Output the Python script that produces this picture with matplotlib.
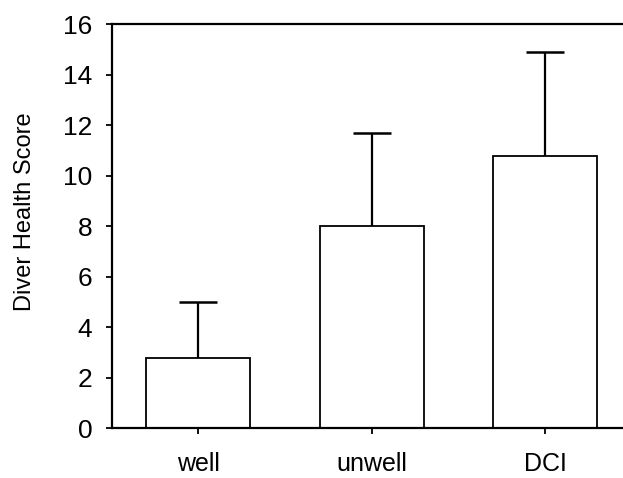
import matplotlib.pyplot as plt

groups = ["well", "unwell", "DCI"]
means = [2.8, 8.0, 10.8]
upper_err = [2.2, 3.7, 4.1]

plt.rcParams["font.family"] = ["Liberation Sans", "DejaVu Sans"]

fig = plt.figure(figsize=(6.23, 4.78), dpi=100)
ax = fig.add_axes([0.1793, 0.104, 0.835, 0.845])

x = list(range(len(groups)))
ax.bar(x, means, width=0.6, color="white", edgecolor="black", linewidth=1.3, zorder=2)
_, caps, _ = ax.errorbar(x, means, yerr=[[0] * len(means), upper_err], fmt="none",
                         ecolor="black", elinewidth=1.6, capsize=14, capthick=1.8, zorder=3)
# only the upper caps are drawn in the original
caps[0].set_visible(False)

ax.set_xlim(-0.5, 2.5)
ax.set_ylim(0, 16)
ax.set_yticks(range(0, 17, 2))
ax.set_xticks(x)
ax.set_xticklabels(groups)
ax.set_ylabel("Diver Health Score", fontsize=17)
ax.yaxis.set_label_coords(-0.145, 0.537)

for s in ax.spines.values():
    s.set_linewidth(1.6)
ax.tick_params(axis="y", labelsize=19, length=4, width=1.3, pad=10)
ax.tick_params(axis="x", labelsize=18, length=4, width=1.3, pad=13)

fig.savefig("out.png", dpi=100)
